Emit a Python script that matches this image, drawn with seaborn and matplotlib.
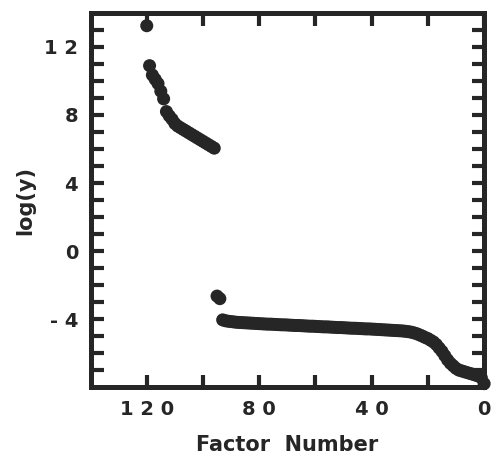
import matplotlib
matplotlib.use("Agg")
import matplotlib.pyplot as plt
import seaborn as sns
import pandas as pd
from matplotlib.ticker import FixedLocator

# Factor numbers, largest first
factor_number = list(range(120, -1, -1))

# log of the factor magnitude for each factor number above
log_y = [
    13.25, 10.9, 10.35, 10.1, 9.85, 9.4, 8.95, 8.2, 7.95, 7.75,
    7.5, 7.35, 7.25, 7.15, 7.05, 6.95, 6.85, 6.75, 6.65, 6.55,
    6.45, 6.35, 6.25, 6.15, 6.05,
    -2.65, -2.8,
    -4.05, -4.1, -4.13, -4.15, -4.17, -4.19, -4.2, -4.21, -4.22, -4.23,
    -4.24, -4.25, -4.26, -4.27, -4.28, -4.29, -4.3, -4.3, -4.31, -4.32,
    -4.33, -4.34, -4.34, -4.35, -4.36, -4.37, -4.38, -4.38, -4.39, -4.4,
    -4.41, -4.42, -4.42, -4.43, -4.44, -4.45, -4.46, -4.46, -4.47, -4.48,
    -4.49, -4.5, -4.5, -4.51, -4.52, -4.53, -4.54, -4.54, -4.55, -4.56,
    -4.57, -4.58, -4.58, -4.59, -4.6, -4.61, -4.62, -4.63, -4.64, -4.65,
    -4.66, -4.67, -4.68, -4.69, -4.7, -4.72, -4.74, -4.77, -4.81, -4.86,
    -4.93, -5.0, -5.08, -5.15, -5.25, -5.35, -5.5, -5.7, -5.9, -6.15,
    -6.4, -6.6, -6.75, -6.9, -7.0, -7.05, -7.1, -7.15, -7.2, -7.25,
    -7.3, -7.35, -7.45, -7.8,
]

x_tick_values = [120, 80, 40, 0]
x_tick_labels = ["1 2 0", "8 0", "4 0", "0"]
y_tick_values = [12, 8, 4, 0, -4]
y_tick_labels = ["1 2", "8", "4", "0", "- 4"]

df = pd.DataFrame({"Factor Number": factor_number, "log(y)": log_y})

sns.set_theme(style="white")
plt.rcParams["font.family"] = ["DejaVu Sans"]
plt.rcParams["font.weight"] = "bold"

ink = "#262626"

fig = plt.figure(figsize=(4.92, 4.63), dpi=100)
ax = fig.add_axes([0.184, 0.164, 0.800, 0.808])

sns.scatterplot(data=df, x="Factor Number", y="log(y)", ax=ax,
                s=88, color=ink, edgecolor="none", linewidth=0,
                clip_on=False, legend=False)

ax.set_xlim(140, 0)
ax.set_ylim(-8, 14)

ax.xaxis.set_major_locator(FixedLocator(x_tick_values))
ax.xaxis.set_minor_locator(FixedLocator([100, 60, 20]))
ax.set_xticklabels(x_tick_labels)
ax.yaxis.set_major_locator(FixedLocator(y_tick_values))
ax.yaxis.set_minor_locator(FixedLocator([13, 11, 10, 9, 7, 6, 5, 3, 2, 1,
                                         -1, -2, -3, -5, -6, -7]))
ax.set_yticklabels(y_tick_labels)

for side in ["left", "right", "top", "bottom"]:
    ax.spines[side].set_visible(True)
    ax.spines[side].set_linewidth(3.6)
    ax.spines[side].set_color(ink)

for which in ["major", "minor"]:
    ax.tick_params(axis="both", which=which, direction="in", length=9,
                   width=3.0, color=ink, top=True, right=True,
                   bottom=True, left=True)
ax.tick_params(axis="both", which="major", labelsize=14, labelcolor=ink, pad=9)

for lab in ax.get_xticklabels() + ax.get_yticklabels():
    lab.set_fontweight("bold")

ax.set_xlabel("Factor  Number", fontsize=15, fontweight="bold", color=ink,
              labelpad=12)
ax.set_ylabel("log(y)", fontsize=15, fontweight="bold", color=ink,
              labelpad=6)

fig.savefig("out.png", dpi=100, facecolor="white")
